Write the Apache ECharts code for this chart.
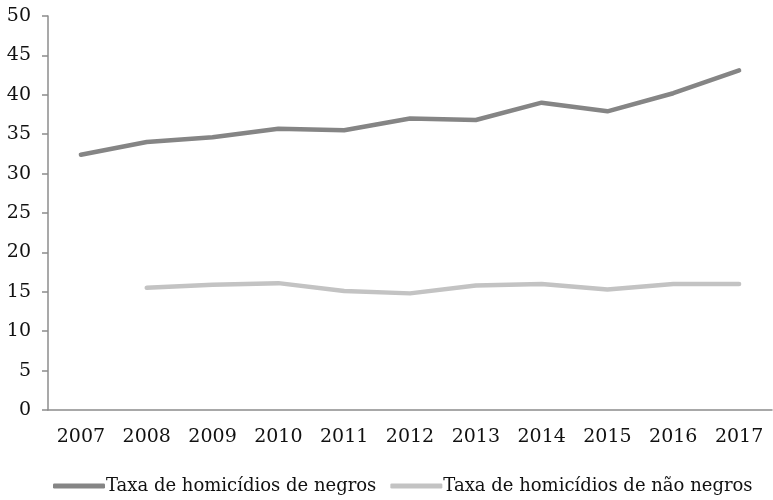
<!DOCTYPE html>
<html>
<head>
<meta charset="utf-8">
<script src="https://cdn.jsdelivr.net/npm/echarts@6/dist/echarts.min.js"></script>
<style>
    html, body { margin: 0; padding: 0; background: #fff; }
    #myChart { width: 773px; height: 500px; }
</style>
</head>
<body>
<div id="myChart"></div>
<script>
    // dados do gráfico
    var years = ['2007', '2008', '2009', '2010', '2011', '2012', '2013', '2014', '2015', '2016', '2017'];
    var negros = [32.4, 34.0, 34.6, 35.7, 35.5, 37.0, 36.8, 39.0, 37.9, 40.2, 43.1];
    var naoNegros = ['-', 15.5, 15.9, 16.1, 15.1, 14.8, 15.8, 16.0, 15.3, 16.0, 16.0];

    var fontName = 'DejaVu Serif';
    var axisColor = '#8c8c8c';

    var myChart = echarts.init(document.getElementById('myChart'));

    myChart.setOption({
        animation: false,
        grid: {
            left: 48,
            right: 1,
            top: 16,
            bottom: 90
        },
        legend: {
            left: 48,
            bottom: 0,
            itemWidth: 52,
            itemHeight: 5,
            itemGap: 14,
            icon: 'roundRect',
            textStyle: {
                fontFamily: fontName,
                fontSize: 18,
                color: '#111',
                padding: [0, 0, 0, -4]
            },
            data: ['Taxa de homicídios de negros', 'Taxa de homicídios de não negros']
        },
        xAxis: {
            type: 'category',
            data: years,
            boundaryGap: true,
            axisLine: { lineStyle: { color: axisColor, width: 1.5 } },
            axisTick: { length: 6, lineStyle: { color: axisColor, width: 1.5 } },
            axisLabel: {
                margin: 18,
                fontFamily: fontName,
                fontSize: 19,
                color: '#111'
            }
        },
        yAxis: {
            type: 'value',
            min: 0,
            max: 50,
            interval: 5,
            splitLine: { show: false },
            axisLine: { show: true, lineStyle: { color: axisColor, width: 1.5 } },
            axisTick: { show: true, length: 6, lineStyle: { color: axisColor, width: 1.5 } },
            axisLabel: {
                margin: 17,
                fontFamily: fontName,
                fontSize: 19,
                color: '#111'
            }
        },
        series: [
            {
                name: 'Taxa de homicídios de negros',
                type: 'line',
                data: negros,
                showSymbol: false,
                symbol: 'none',
                lineStyle: { color: '#858585', width: 4.5, cap: 'round', join: 'round' },
                itemStyle: { color: '#858585' }
            },
            {
                name: 'Taxa de homicídios de não negros',
                type: 'line',
                data: naoNegros,
                showSymbol: false,
                symbol: 'none',
                lineStyle: { color: '#c3c3c3', width: 4.5, cap: 'round', join: 'round' },
                itemStyle: { color: '#c3c3c3' }
            }
        ]
    });
</script>
</body>
</html>
